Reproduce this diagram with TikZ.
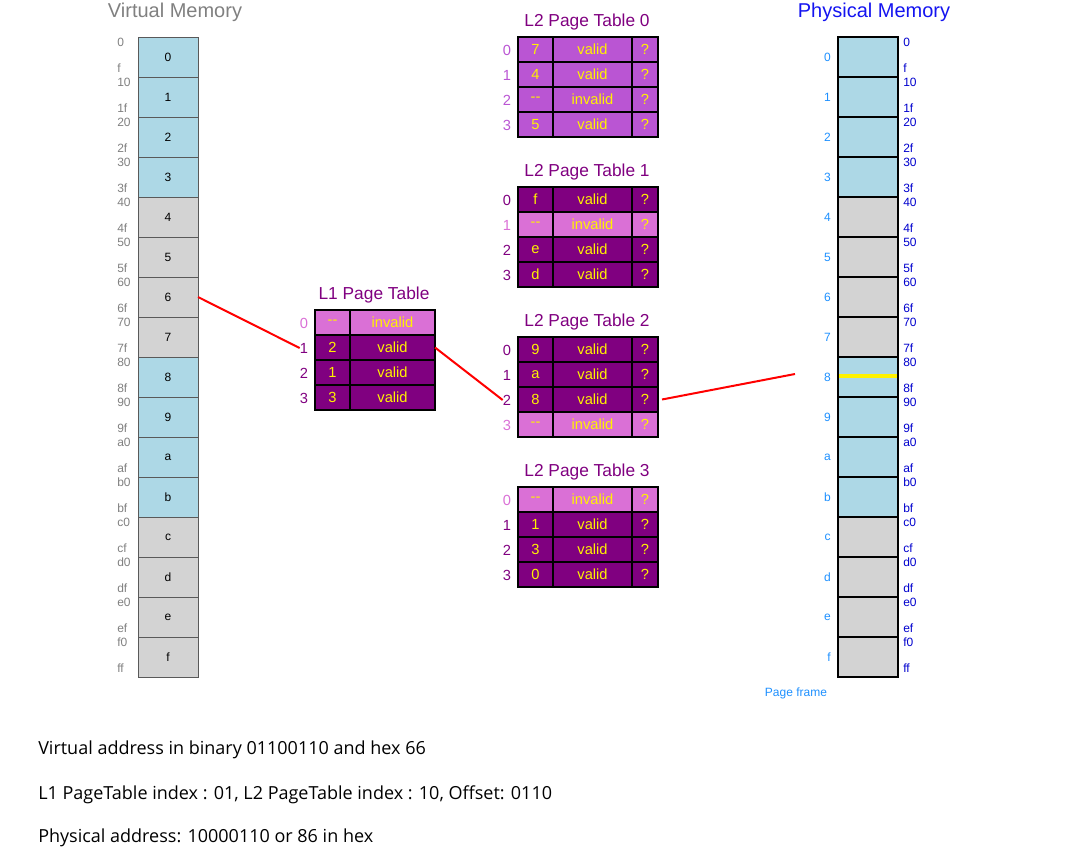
\documentclass[tikz,border=0pt]{standalone}
\usepackage{fontspec}
\setmainfont{Liberation Sans}
\newfontfamily\notefont{Open Sans}
\usepackage{tikz}
\usetikzlibrary{positioning}
\definecolor{vmblue}{RGB}{173,216,230}
\definecolor{vmgray}{RGB}{211,211,211}
\definecolor{vmtext}{RGB}{128,128,128}
\definecolor{ptorchid}{RGB}{218,112,214}
\definecolor{ptmedium}{RGB}{186,85,211}
\definecolor{ptpurple}{RGB}{128,0,128}
\definecolor{pmframe}{RGB}{30,144,255}
\definecolor{pmaddr}{RGB}{0,0,205}
\definecolor{pmtitle}{RGB}{20,20,240}

\begin{document}
\begin{tikzpicture}[x=0.75pt,y=-0.75pt,
  memcell/.style={minimum width=45pt,minimum height=30pt,inner sep=0pt,outer sep=0pt,
    font=\fontsize{9}{10}\selectfont},
  vmcell/.style={memcell,draw=black!65,line width=0.7pt},
  pmcell/.style={memcell,draw=black,line width=1.5pt},
  addr/.style={anchor=west,inner sep=0pt,font=\fontsize{9}{10}\selectfont},
  ptcell/.style={draw=black,line width=1pt,minimum height=18.75pt,inner sep=0pt,
    outer sep=0pt,text=yellow,font=\fontsize{11}{12}\selectfont},
  idx/.style={inner sep=0pt,font=\fontsize{11}{12}\selectfont},
  ptitle/.style={text=ptpurple,font=\fontsize{13}{14}\selectfont},
  link/.style={red,line width=1.5pt},
  note/.style={anchor=west,inner sep=0pt,font=\notefont\fontsize{13.5}{15}\selectfont}
]
  \useasboundingbox (0,0) rectangle (1066,862);

  % virtual memory
  \node[text=vmtext,font=\fontsize{15}{16}\selectfont] (vmtitle) at (175,12) {Virtual Memory};
  \foreach \i/\lab/\col/\st/\en in {0/0/vmblue/0/f,1/1/vmblue/10/1f,2/2/vmblue/20/2f,
      3/3/vmblue/30/3f,4/4/vmgray/40/4f,5/5/vmgray/50/5f,6/6/vmgray/60/6f,7/7/vmgray/70/7f,
      8/8/vmblue/80/8f,9/9/vmblue/90/9f,10/a/vmblue/a0/af,11/b/vmblue/b0/bf,
      12/c/vmgray/c0/cf,13/d/vmgray/d0/df,14/e/vmgray/e0/ef,15/f/vmgray/f0/ff} {
    \node[vmcell,fill=\col] (vm\i) at (168,{57+40*\i}) {\lab};
    \node[addr,text=vmtext] (vms\i) at (117,{42+40*\i}) {\st};
    \node[addr,text=vmtext] (vme\i) at (117,{68+40*\i}) {\en};
  }

  % physical memory
  \node[text=pmtitle,font=\fontsize{15}{16}\selectfont] (pmtitle) at (874,12) {Physical Memory};
  \foreach \i/\lab/\col/\st/\en in {0/0/vmblue/0/f,1/1/vmblue/10/1f,2/2/vmblue/20/2f,
      3/3/vmblue/30/3f,4/4/vmgray/40/4f,5/5/vmgray/50/5f,6/6/vmgray/60/6f,7/7/vmgray/70/7f,
      8/8/vmblue/80/8f,9/9/vmblue/90/9f,10/a/vmblue/a0/af,11/b/vmblue/b0/bf,
      12/c/vmgray/c0/cf,13/d/vmgray/d0/df,14/e/vmgray/e0/ef,15/f/vmgray/f0/ff} {
    \node[pmcell,fill=\col] (pm\i) at (868,{57+40*\i}) {};
    \node[addr,anchor=east,text=pmframe] (pmf\i) at (831,{57+40*\i}) {\lab};
    \node[addr,text=pmaddr] (pms\i) at (903,{42+40*\i}) {\st};
    \node[addr,text=pmaddr] (pme\i) at (903,{68+40*\i}) {\en};
  }
  \draw[yellow,line width=3pt] (839,376) -- (897,376);
  \node[text=pmframe,font=\fontsize{9}{10}\selectfont] (pagefr) at (796,693) {Page frame};

  % L1 page table
  \node[ptitle] (l1title) at (374,295) {L1 Page Table};
  \foreach \r/\fr/\st/\col in {0/{-}{-}/invalid/ptorchid,1/2/valid/ptpurple,
      2/1/valid/ptpurple,3/3/valid/ptpurple} {
    \node[ptcell,fill=\col,minimum width=26.25pt] (l1r\r a) at (332.5,{322.5+25*\r}) {\fr};
    \node[ptcell,fill=\col,minimum width=63.75pt] (l1r\r b) at (392.5,{322.5+25*\r}) {\st};
    \node[idx,text=\col] (l1i\r) at (304,{323+25*\r}) {\r};
  }

  % L2 page tables
  \foreach \k in {0,...,3}
    \node[ptitle] (t\k title) at (587,{22+150*\k}) {L2 Page Table \k};
  \foreach \k/\r/\fr/\st/\col/\icol in {
      0/0/7/valid/ptmedium/ptmedium,0/1/4/valid/ptmedium/ptmedium,
      0/2/{-}{-}/invalid/ptmedium/ptmedium,0/3/5/valid/ptmedium/ptmedium,
      1/0/f/valid/ptpurple/ptpurple,1/1/{-}{-}/invalid/ptorchid/ptorchid,
      1/2/e/valid/ptpurple/ptpurple,1/3/d/valid/ptpurple/ptpurple,
      2/0/9/valid/ptpurple/ptpurple,2/1/a/valid/ptpurple/ptpurple,
      2/2/8/valid/ptpurple/ptpurple,2/3/{-}{-}/invalid/ptorchid/ptorchid,
      3/0/{-}{-}/invalid/ptorchid/ptorchid,3/1/1/valid/ptpurple/ptpurple,
      3/2/3/valid/ptpurple/ptpurple,3/3/0/valid/ptpurple/ptpurple} {
    \node[ptcell,fill=\col,minimum width=26.25pt] (t\k r\r a) at (535.5,{49.5+150*\k+25*\r}) {\fr};
    \node[ptcell,fill=\col,minimum width=59.25pt] (t\k r\r b) at (592.5,{49.5+150*\k+25*\r}) {\st};
    \node[ptcell,fill=\col,minimum width=19.5pt] (t\k r\r c) at (645,{49.5+150*\k+25*\r}) {?};
    \node[idx,text=\icol] (t\k i\r) at (507,{50+150*\k+25*\r}) {\r};
  }

  % translation path
  \coordinate (pmhit) at (795,374);
  \draw[link] (vm6.east) -- (l1i1.west);
  \draw[link] (l1r1b.east) -- (t2i2.west);
  \draw[link] ([xshift=3pt]t2r2c.east) -- (pmhit);

  % notes
  \node[note] (note1) at (38,750) {Virtual address in binary 01100110 and hex 66};
  \node[note] (note2) at (38,795) {L1 PageTable index : 01, L2 PageTable index : 10, Offset: 0110};
  \node[note] (note3) at (38,838) {Physical address: 10000110 or 86 in hex};
\end{tikzpicture}
\end{document}
